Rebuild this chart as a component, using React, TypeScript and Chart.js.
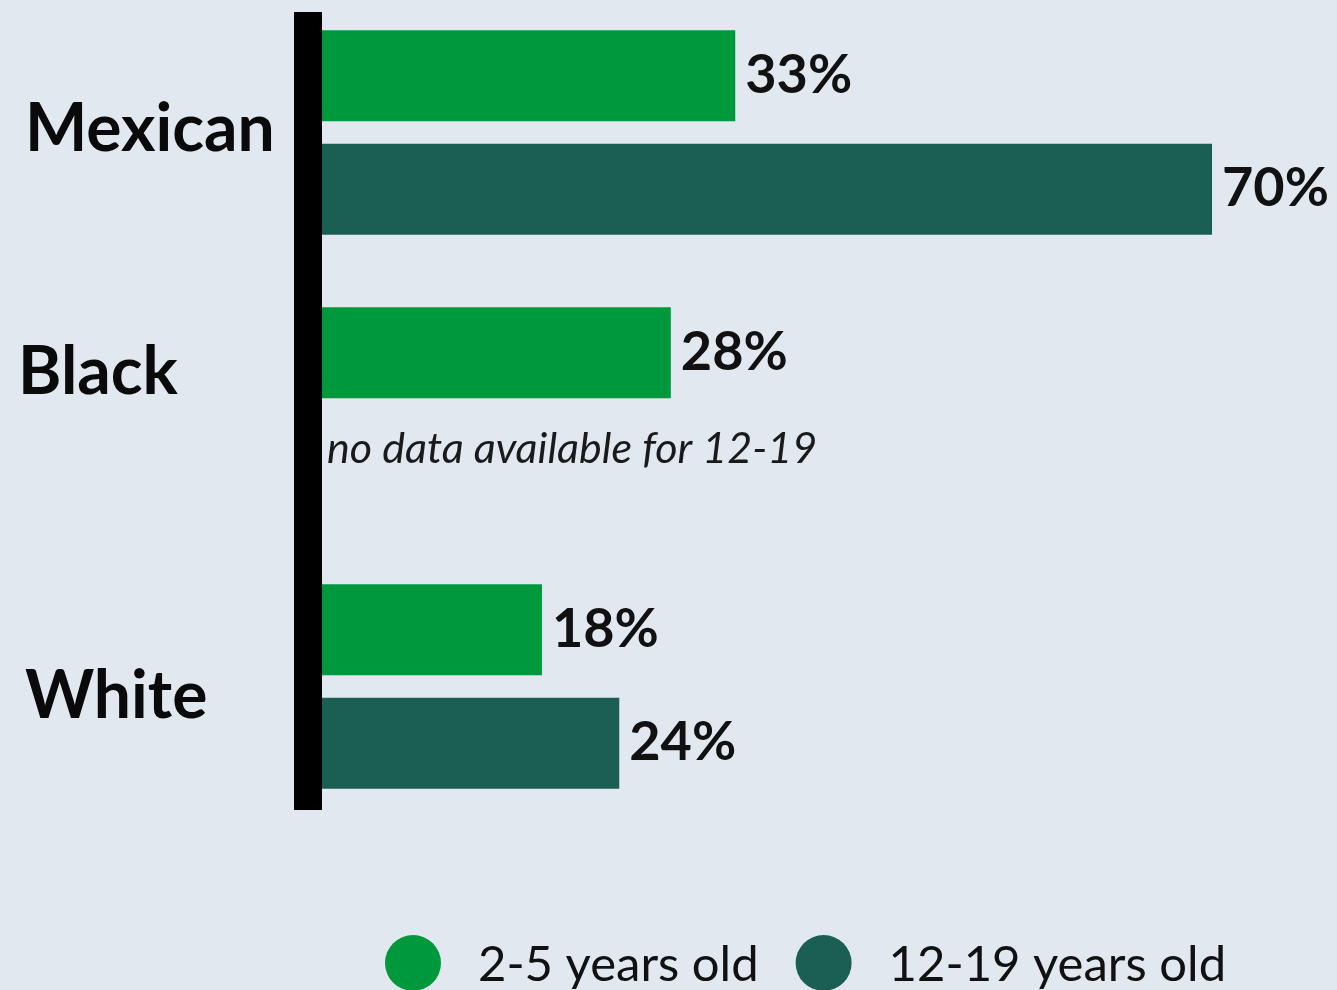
import React, { useEffect, useRef } from "react";
import { Chart, registerables } from "chart.js";

Chart.register(...registerables);

const categories = ["Mexican", "Black", "White"];
const seriesNames = ["2-5 years old", "12-19 years old"];
const youngValues: (number | null)[] = [33, 28, 18];
const teenValues: (number | null)[] = [70, null, 24];
const seriesColors = ["#00983d", "#1a5e54"];
const noDataNote = "no data available for 12-19";
const xMax = 79;

const FONT = "Lato, 'Open Sans', sans-serif";
const BG = "#e1e8f0";
const SHIFT = 30; // canvas is shifted up by this many px
const CANVAS_W = 1337;
const CANVAS_H = 1060;

// per-category label nudges [dx, dy]
const labelNudge = [
  [25, -6],
  [18, -40],
  [25, 7],
];

const decorPlugin = {
  id: "decor",
  afterDatasetsDraw(chart: any) {
    const { ctx, chartArea } = chart;
    const ys = chart.scales.y;
    const zero = chart.scales.x.getPixelForValue(0);
    ctx.save();

    // value labels
    ctx.fillStyle = "#111";
    ctx.font = `bold 54px ${FONT}`;
    ctx.textAlign = "left";
    ctx.textBaseline = "alphabetic";
    chart.data.datasets.forEach((ds: any, di: number) => {
      const meta = chart.getDatasetMeta(di);
      meta.data.forEach((el: any, i: number) => {
        const v = ds.data[i];
        if (v === null || v === undefined) return;
        ctx.fillText(`${v}%`, el.x + 10, el.y + 17);
      });
    });

    // no data note at position of missing bar
    const tMeta = chart.getDatasetMeta(1);
    const missingIdx = teenValues.findIndex((v) => v === null);
    if (missingIdx >= 0) {
      const el = tMeta.data[missingIdx];
      ctx.font = `italic 43px ${FONT}`;
      ctx.fillStyle = "#1a1a1a";
      ctx.fillText(noDataNote, zero + 17, el.y - 3);
    }

    // category labels
    ctx.font = `bold 66px ${FONT}`;
    ctx.fillStyle = "#0a0a0a";
    categories.forEach((c, i) => {
      const y = ys.getPixelForValue(i);
      ctx.fillText(c, labelNudge[i][0], y + labelNudge[i][1] + 24);
    });

    // thick axis line
    ctx.fillStyle = "#000";
    ctx.fillRect(zero - 16, chartArea.top + 18, 28, chartArea.bottom - chartArea.top - 33);

    // legend
    ctx.font = `49px ${FONT}`;
    const ly = 963 + SHIFT;
    let lx = chartArea.left + 75;
    seriesNames.forEach((name, i) => {
      ctx.fillStyle = seriesColors[i];
      ctx.beginPath();
      ctx.arc(lx + 28, ly, 28, 0, Math.PI * 2);
      ctx.fill();
      lx += 56 + 37;
      ctx.fillStyle = "#111";
      ctx.fillText(name, lx, ly + 18);
      lx += ctx.measureText(name).width + 37;
    });
    ctx.restore();
  },
};

export default function App() {
  const ref = useRef<HTMLCanvasElement>(null);
  useEffect(() => {
    if (!ref.current) return;
    const chart = new Chart(ref.current, {
      type: "bar",
      data: {
        labels: categories,
        datasets: [
          {
            label: seriesNames[0],
            data: youngValues,
            backgroundColor: seriesColors[0],
            categoryPercentage: 0.82,
            barPercentage: 0.8,
          },
          {
            label: seriesNames[1],
            data: teenValues,
            backgroundColor: seriesColors[1],
            categoryPercentage: 0.82,
            barPercentage: 0.8,
          },
        ],
      },
      options: {
        indexAxis: "y",
        animation: false,
        responsive: false,
        layout: { padding: { left: 310, right: 9, top: 24, bottom: CANVAS_H - 855 } },
        scales: {
          x: { display: false, min: 0, max: xMax },
          y: { display: false },
        },
        plugins: {
          legend: { display: false },
          tooltip: { enabled: false },
        },
      },
      plugins: [decorPlugin],
    });
    return () => chart.destroy();
  }, []);

  return (
    <div
      style={{
        position: "absolute",
        left: 0,
        top: 0,
        width: CANVAS_W,
        height: 990,
        overflow: "hidden",
        background: BG,
      }}
    >
      <canvas
        ref={ref}
        width={CANVAS_W}
        height={CANVAS_H}
        style={{ position: "absolute", left: 0, top: -SHIFT, width: CANVAS_W, height: CANVAS_H }}
      />
    </div>
  );
}
